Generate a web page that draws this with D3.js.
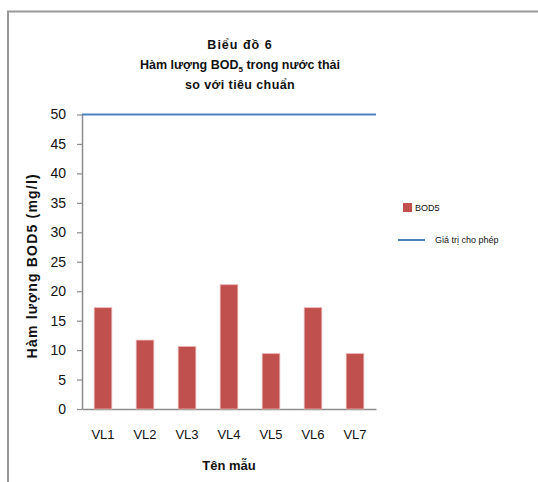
<!DOCTYPE html>
<html>
<head>
<meta charset="utf-8">
<script src="https://cdn.jsdelivr.net/npm/d3@7"></script>
<style>
  html, body { margin: 0; padding: 0; background: #fff; }
  svg { display: block; font-family: "Liberation Sans", Arial, sans-serif; }
</style>
</head>
<body>
<svg id="chart" width="538" height="482"></svg>
<script>
// Sample sites and their BOD5 concentration (mg/l)
const categories = ["VL1", "VL2", "VL3", "VL4", "VL5", "VL6", "VL7"];
const bod5Values = [17.2, 11.7, 10.6, 21.1, 9.4, 17.2, 9.4];
// Permitted limit
const limitValue = 50;
const yTicks = [0, 5, 10, 15, 20, 25, 30, 35, 40, 45, 50];

const svg = d3.select("#chart");

// Outer frame (top and left edges)
svg.append("path")
  .attr("d", "M8,482 V11.5 H538")
  .attr("fill", "none")
  .attr("stroke", "#999")
  .attr("stroke-width", 2);

const plot = { left: 82, right: 376, top: 114.5, bottom: 409 };

const x = d3.scaleBand()
  .domain(categories)
  .range([plot.left, plot.right])
  .paddingInner(0.58)
  .paddingOuter(0.29);

const y = d3.scaleLinear()
  .domain([0, 50])
  .range([plot.bottom, plot.top]);

// Y axis
const yAxis = svg.append("g")
  .attr("transform", `translate(${plot.left},0)`)
  .call(d3.axisLeft(y).tickValues(yTicks).tickSize(5).tickPadding(11).tickSizeOuter(0));
yAxis.select(".domain").attr("stroke", "#8c8c8c").attr("stroke-width", 1.5);
yAxis.selectAll(".tick line").attr("stroke", "#8c8c8c").attr("stroke-width", 1.2);
yAxis.selectAll(".tick text").attr("font-size", 14).attr("fill", "#111");

// X axis
const xAxis = svg.append("g")
  .attr("transform", `translate(0,${plot.bottom})`)
  .call(d3.axisBottom(x).tickSize(0).tickPadding(21).tickSizeOuter(0));
xAxis.select(".domain").attr("stroke", "#8c8c8c").attr("stroke-width", 1.5);
xAxis.selectAll(".tick text").attr("font-size", 13).attr("fill", "#111");

// Bars
svg.append("g")
  .selectAll("rect")
  .data(bod5Values)
  .join("rect")
  .attr("x", (d, i) => x(categories[i]))
  .attr("y", d => y(d))
  .attr("width", x.bandwidth())
  .attr("height", d => y(0) - y(d))
  .attr("fill", "#C0504D")
  .attr("stroke", "#e9b3b2")
  .attr("stroke-width", 0.8);

// Limit line
svg.append("line")
  .attr("x1", plot.left)
  .attr("x2", plot.right)
  .attr("y1", y(limitValue))
  .attr("y2", y(limitValue))
  .attr("stroke", "#4F81BD")
  .attr("stroke-width", 2);

// Title
const title = svg.append("text")
  .attr("text-anchor", "middle")
  .attr("font-weight", "bold")
  .attr("font-size", 12.5)
  .attr("fill", "#111");
title.append("tspan").attr("x", 240).attr("y", 49).attr("letter-spacing", 1).text("Biểu  đồ 6");
const t2 = title.append("tspan").attr("x", 240).attr("y", 69);
t2.append("tspan").text("Hàm lượng BOD");
t2.append("tspan").attr("font-size", 8).attr("dy", 3).text("5");
t2.append("tspan").attr("dy", -3).text(" trong nước thải");
title.append("tspan").attr("x", 240).attr("y", 89).attr("letter-spacing", 0.4).text("so với tiêu chuẩn");

// Axis titles
svg.append("text")
  .attr("transform", `translate(37,${(plot.top + plot.bottom) / 2 + 4}) rotate(-90)`)
  .attr("text-anchor", "middle")
  .attr("font-weight", "bold")
  .attr("font-size", 14)
  .attr("letter-spacing", 1.2)
  .attr("fill", "#111")
  .text("Hàm lượng BOD5 (mg/l)");

svg.append("text")
  .attr("x", (plot.left + plot.right) / 2)
  .attr("y", 470)
  .attr("text-anchor", "middle")
  .attr("font-weight", "bold")
  .attr("font-size", 13)
  .attr("fill", "#111")
  .text("Tên mẫu");

// Legend
const legend = svg.append("g").attr("font-size", 9).attr("fill", "#111");
legend.append("rect")
  .attr("x", 403).attr("y", 203).attr("width", 9).attr("height", 9)
  .attr("fill", "#C0504D");
legend.append("text").attr("x", 415).attr("y", 211).text("BOD5");
legend.append("line")
  .attr("x1", 398).attr("x2", 425).attr("y1", 240).attr("y2", 240)
  .attr("stroke", "#4F81BD").attr("stroke-width", 2);
legend.append("text").attr("x", 435).attr("y", 243).text("Giá trị cho phép");
</script>
</body>
</html>
